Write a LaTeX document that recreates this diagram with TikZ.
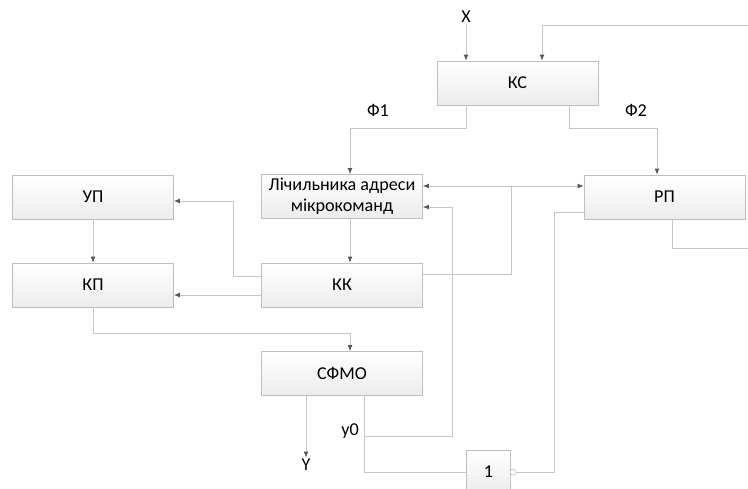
\documentclass[tikz,border=0pt]{standalone}
\usepackage{fontspec}
\setmainfont{Carlito}
\usetikzlibrary{arrows.meta,positioning}
\tikzset{
	blok/.style={draw=gray!50, top color=white, bottom color=gray!15, minimum width=120.75pt,
		minimum height=33pt, inner sep=0pt, align=center, font=\fontsize{13.6}{15.75}\selectfont},
	mitka/.style={font=\fontsize{13.6}{15}\selectfont, inner sep=1pt},
	zv/.style={draw=gray!45, line width=0.6pt},
	str/.style={zv, -{Latex[length=4.5pt,width=3.6pt,color=gray!70!black]}}
}

\begin{document}
\begin{tikzpicture}[x=0.75pt,y=-0.75pt]
	\clip (0,0) rectangle (748,488);

	\node[blok] (KS) at (517.5,83) {КС};
	\node[blok] (LAM) at (342,196.5) {Лічильника адреси\\мікрокоманд};
	\node[blok] (RP) at (664.5,197) {РП};
	\node[blok] (UP) at (93,197) {УП};
	\node[blok] (KP) at (93,285) {КП};
	\node[blok] (KK) at (342,285) {КК};
	\node[blok] (SFMO) at (342,373.5) {СФМО};
	\node[blok, minimum width=33pt] (OR) at (488.5,472) {1};
	\node[circle, draw=gray!50, fill=white, inner sep=0pt, minimum size=4.5pt] (neg) at (513,472) {};

	\node[mitka] (X) at (466,17) {X};
	\node[mitka] (Y) at (306,465) {Y};
	\node[mitka] (F1) at (378,110) {Ф1};
	\node[mitka] (F2) at (636,110) {Ф2};
	\node[mitka] (ly0) at (350,431) {y0};

	\coordinate (vk1) at (748,25);
	\coordinate (vk2) at (542,25);
	\coordinate (f1) at (350,128);
	\coordinate (f2) at (657,128);
	\coordinate (rz) at (511,186);
	\coordinate (y0) at (364,436);
	\coordinate (zv1) at (452,436);
	\coordinate (zv2) at (554,212);
	\coordinate (rp2) at (748,248);
	\coordinate (k1) at (233,201);
	\coordinate (k2) at (350,333);

	% vhody KS
	\draw [str] (X) -- (X |- KS.north);
	\draw [str] (vk1) -- (vk2) -- (vk2 |- KS.north);

	% Ф1, Ф2
	\draw [str] ([xshift=-38.6pt]KS.south) |- (f1) -- (f1 |- LAM.north);
	\draw [str] ([xshift=38.6pt]KS.south) |- (f2) -- (f2 |- RP.north);

	\draw [str] (LAM.south -| f1) -- (KK.north -| f1);

	% KK
	\draw [zv] ([yshift=8.25pt]KK.east) -| (rz);
	\draw [str] (rz) -- (rz -| LAM.east);
	\draw [str] (rz) -- (rz -| RP.west);
	\draw [str] ([yshift=6.75pt]KK.west) -| (k1) -- (k1 -| UP.east);
	\draw [str] ([yshift=-7.5pt]KK.west) -- ([yshift=-7.5pt]KP.east);

	\draw [str] (UP.south) -- (KP.north);
	\draw [str] (KP.south) |- (k2) -- (k2 |- SFMO.north);

	% vyhody SFMO
	\draw [str] ([xshift=-27pt]SFMO.south) -- (Y.north -| 306,0);
	\draw [str] ([xshift=16.5pt]SFMO.south) -- (y0) -- (zv1) |- ([yshift=-7.9pt]LAM.east);
	\draw [zv] (y0) |- (OR.west);

	% RP
	\draw [zv] (neg.east) -| (zv2) -- (zv2 -| RP.west);
	\draw [zv] ([xshift=5.6pt]RP.south) |- (rp2);

\end{tikzpicture}
\end{document}
